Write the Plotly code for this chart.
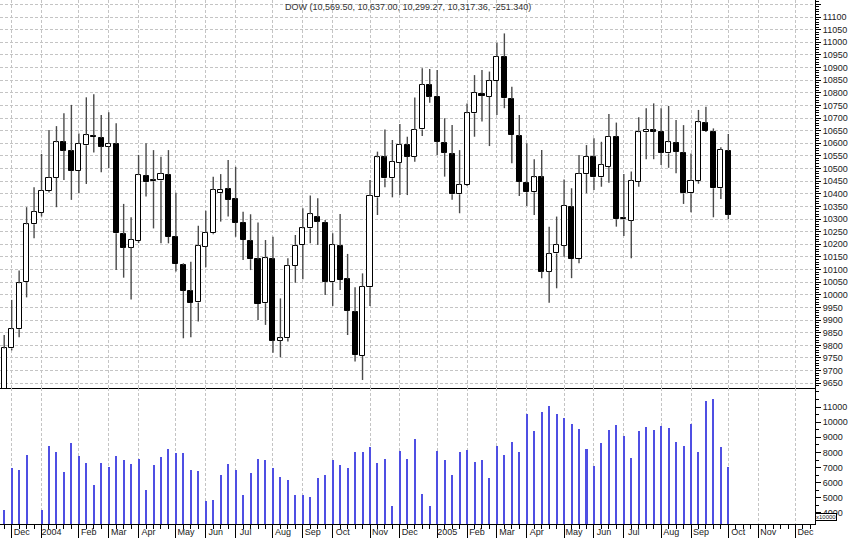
import plotly.graph_objects as go

# ---------------- data (weekly DOW, Nov 2003 - Oct 2005) ----------------
weeks = list(range(98))

opens = [9628, 9788, 9864, 10050, 10279, 10325, 10412, 10464, 10604, 10569,
         10491, 10592, 10630, 10622, 10587, 10597, 10240, 10187, 10214, 10472,
         10455, 10453, 10476, 10230, 10118, 10015, 9970, 10191, 10244, 10402,
         10419, 10378, 10286, 10214, 10141, 9967, 10141, 9819, 9828, 10115,
         10197, 10263, 10307, 10286, 10050, 10193, 10062, 9933, 9758, 10030,
         10386, 10544, 10461, 10523, 10593, 10547, 10655, 10831, 10785, 10602,
         10556, 10398, 10435, 10719, 10797, 10785, 10847, 10943, 10775, 10629,
         10444, 10406, 10465, 10092, 10164, 10195, 10347, 10142, 10478, 10547,
         10465, 10507, 10626, 10299, 10294, 10448, 10644, 10651, 10646, 10560,
         10602, 10563, 10402, 10451, 10679, 10646, 10422, 10569.50]

highs = [9841, 9980, 10096, 10347, 10426, 10558, 10653, 10668, 10719, 10752,
         10639, 10782, 10794, 10712, 10723, 10679, 10360, 10307, 10554, 10600,
         10573, 10547, 10573, 10404, 10125, 10131, 10274, 10333, 10468, 10478,
         10534, 10507, 10329, 10319, 10286, 10217, 10230, 9986, 10145, 10237,
         10343, 10393, 10382, 10296, 10244, 10320, 10162, 10030, 10085, 10455,
         10567, 10655, 10613, 10676, 10626, 10781, 10897, 10894, 10890, 10699,
         10672, 10573, 10758, 10870, 10890, 10884, 10998, 11035, 10824, 10712,
         10600, 10537, 10573, 10270, 10310, 10457, 10422, 10554, 10593, 10620,
         10606, 10716, 10682, 10478, 10488, 10703, 10739, 10758, 10739, 10748,
         10692, 10672, 10560, 10732, 10745, 10659, 10584, 10637.00]

lows = [9610, 9780, 9832, 9990, 10224, 10310, 10405, 10347, 10455, 10376,
        10402, 10439, 10564, 10485, 10501, 10098, 10068, 9982, 10205, 10389,
        10263, 10204, 10204, 10092, 9828, 9832, 9894, 10109, 10240, 10290,
        10310, 10230, 10138, 10098, 9900, 9881, 9771, 9753, 9815, 10048,
        10062, 10204, 10197, 9999, 9956, 10019, 9841, 9736, 9663, 9956,
        10316, 10426, 10386, 10395, 10395, 10527, 10629, 10761, 10554, 10468,
        10376, 10323, 10431, 10626, 10686, 10589, 10712, 10739, 10521, 10391,
        10352, 10316, 10066, 9969, 10026, 10151, 10066, 10125, 10402, 10415,
        10428, 10444, 10270, 10233, 10145, 10428, 10537, 10537, 10514, 10503,
        10481, 10360, 10327, 10440, 10645, 10307, 10379, 10299.27]

closes = [9788, 9864, 10046, 10279, 10328, 10412, 10464, 10604, 10571, 10491,
          10597, 10632, 10625, 10587, 10597, 10244, 10187, 10217, 10474, 10446,
          10450, 10478, 10230, 10122, 10016, 9969, 10193, 10246, 10415, 10417,
          10376, 10286, 10217, 10141, 9964, 10145, 9819, 9828, 10114, 10195,
          10263, 10319, 10290, 10052, 10197, 10059, 9937, 9762, 10032, 10391,
          10544, 10461, 10527, 10593, 10547, 10653, 10831, 10785, 10606, 10563,
          10398, 10435, 10719, 10800, 10788, 10847, 10943, 10778, 10633, 10448,
          10406, 10465, 10092, 10162, 10197, 10352, 10142, 10478, 10547, 10465,
          10514, 10626, 10299, 10305, 10451, 10644, 10653, 10646, 10563, 10604,
          10567, 10402, 10451, 10683, 10649, 10422, 10573, 10317.36]

volumes = [4200, 6950, 6840, 7830, 3300, 4200, 8425, 8050, 6710, 8600,
           7765, 7300, 5850, 7300, 7015, 7765, 7500, 7235, 7545, 5500,
           7170, 7700, 8225, 7960, 7960, 6840, 6775, 4810, 4855, 6490,
           7235, 6840, 5190, 6660, 7545, 7480, 6950, 6380, 6180, 5190,
           5210, 5080, 6290, 6490, 7480, 7170, 6950, 8000, 8000, 8380,
           7300, 7545, 4440, 8095, 7545, 8865, 5255, 4460, 8115, 7500,
           6510, 8030, 8160, 7370, 7500, 6330, 8425, 7850, 8670, 8030,
           10560, 9415, 10690, 11045, 10560, 10295, 9900, 9525, 8250, 7125,
           8645, 9480, 9810, 9105, 7610, 9415, 9700, 9480, 9765, 9590,
           8710, 8425, 9875, 8030, 11395, 11505, 8360, 7015]

month_weeks = [1, 5, 10, 14, 18, 23, 27, 31, 36, 40, 44, 49, 53,
               58, 62, 66, 70, 75, 79, 83, 88, 92, 97, 101, 106]
month_labels = ["Dec", "2004", "Feb", "Mar", "Apr", "May", "Jun", "Jul", "Aug",
                "Sep", "Oct", "Nov", "Dec", "2005", "Feb", "Mar", "Apr", "May",
                "Jun", "Jul", "Aug", "Sep", "Oct", "Nov", "Dec"]

price_ticks = list(range(9650, 11151, 50))
price_labels = [str(v) if v <= 11100 else "" for v in price_ticks]
volume_ticks = list(range(4000, 11001, 1000))
volume_labels = [str(v) for v in volume_ticks]
title_text = "DOW (10,569.50, 10,637.00, 10,299.27, 10,317.36, -251.340)"
volume_unit = "x10000"

# ---------------- derived marks ----------------
body_base = [min(o, c) for o, c in zip(opens, closes)]
body_height = [abs(c - o) for o, c in zip(opens, closes)]
body_fill = ["white" if c >= o else "black" for o, c in zip(opens, closes)]

wick_x, wick_y = [], []
for k, o, h, l, c in zip(weeks, opens, highs, lows, closes):
    wick_x += [k, k, None, k, k, None]
    wick_y += [h, max(o, c), None, min(o, c), l, None]

GRID = "#c4c4c4"
DASH = "3px,2px"
FONT = "Liberation Sans, Arial, sans-serif"
SPLIT = 136 / 524  # volume panel share of plot height

fig = go.Figure()
fig.add_trace(go.Scatter(x=wick_x, y=wick_y, mode="lines",
                         line=dict(color="#4a4a4a", width=1.4),
                         hoverinfo="skip", xaxis="x", yaxis="y"))
fig.add_trace(go.Bar(x=weeks, y=body_height, base=body_base, width=0.68,
                     marker=dict(color=body_fill, line=dict(color="black", width=1)),
                     xaxis="x", yaxis="y"))
fig.add_trace(go.Bar(x=weeks, y=volumes, width=0.27,
                     marker=dict(color="#4f4fe3", line=dict(width=0)),
                     xaxis="x2", yaxis="y2"))

fig.update_layout(
    width=850, height=538,
    margin=dict(l=0, r=35, t=0, b=14),
    paper_bgcolor="white", plot_bgcolor="white",
    showlegend=False, barmode="overlay", bargap=0,
    font=dict(family=FONT, size=9, color="#222222"),
    xaxis=dict(domain=[0, 1], anchor="y", range=[-0.563, 108.61],
               tickvals=month_weeks, showticklabels=False, ticks="",
               showgrid=True, gridcolor=GRID, griddash=DASH, gridwidth=1,
               showline=True, linecolor="black", linewidth=1, zeroline=False),
    yaxis=dict(domain=[SPLIT, 1], anchor="x", side="right",
               range=[9631.2, 11167.3],
               tickvals=price_ticks, ticktext=price_labels,
               ticks="outside", ticklen=5, tickcolor="black", tickwidth=1,
               showline=True, linecolor="black", linewidth=1,
               showgrid=True, gridcolor=GRID, griddash=DASH, gridwidth=1,
               zeroline=False, tickfont=dict(size=9), ticklabeloverflow="allow",
               minor=dict(tick0=0, dtick=10, ticks="outside", ticklen=3,
                          tickcolor="black", showgrid=False)),
    xaxis2=dict(domain=[0, 1], anchor="y2", matches="x", range=[-0.563, 108.61],
                tickvals=month_weeks, ticktext=month_labels,
                ticks="outside", ticklen=14, tickcolor="black", tickwidth=1,
                ticklabelshift=10, ticklabelstandoff=-15,
                ticklabeloverflow="allow",
                tickfont=dict(size=9),
                showgrid=True, gridcolor=GRID, griddash=DASH, gridwidth=1,
                showline=True, linecolor="black", linewidth=1, zeroline=False,
                minor=dict(tick0=0, dtick=1, ticks="outside", ticklen=4,
                           tickcolor="black", showgrid=False)),
    yaxis2=dict(domain=[0, SPLIT], anchor="x2", side="right",
                range=[3273, 12255], tickvals=volume_ticks, ticktext=volume_labels,
                ticks="outside", ticklen=5, tickcolor="black", tickwidth=1,
                showline=True, linecolor="black", linewidth=1,
                showgrid=False, zeroline=False, tickfont=dict(size=9),
                ticklabeloverflow="allow",
                minor=dict(tick0=0, dtick=500, ticks="outside", ticklen=3,
                           tickcolor="black", showgrid=False)),
    annotations=[
        dict(text=title_text, xref="paper", yref="paper", x=0.5, y=1 - 7.3 / 524,
             xanchor="center", yanchor="middle", showarrow=False,
             font=dict(family=FONT, size=9, color="#333333")),
        dict(text=volume_unit, xref="paper", yref="paper", x=1, y=7 / 524,
             xanchor="left", yanchor="middle", showarrow=False,
             font=dict(family=FONT, size=6, color="#222222"),
             bordercolor="black", borderwidth=1, borderpad=0, bgcolor="white"),
    ],
)

# remove the browser's default 8px page margin so the chart sits at the window origin
fig.write_html("out.html",
               config={"displayModeBar": False},
               post_script="document.body.style.margin='0';document.body.style.overflow='hidden';")
